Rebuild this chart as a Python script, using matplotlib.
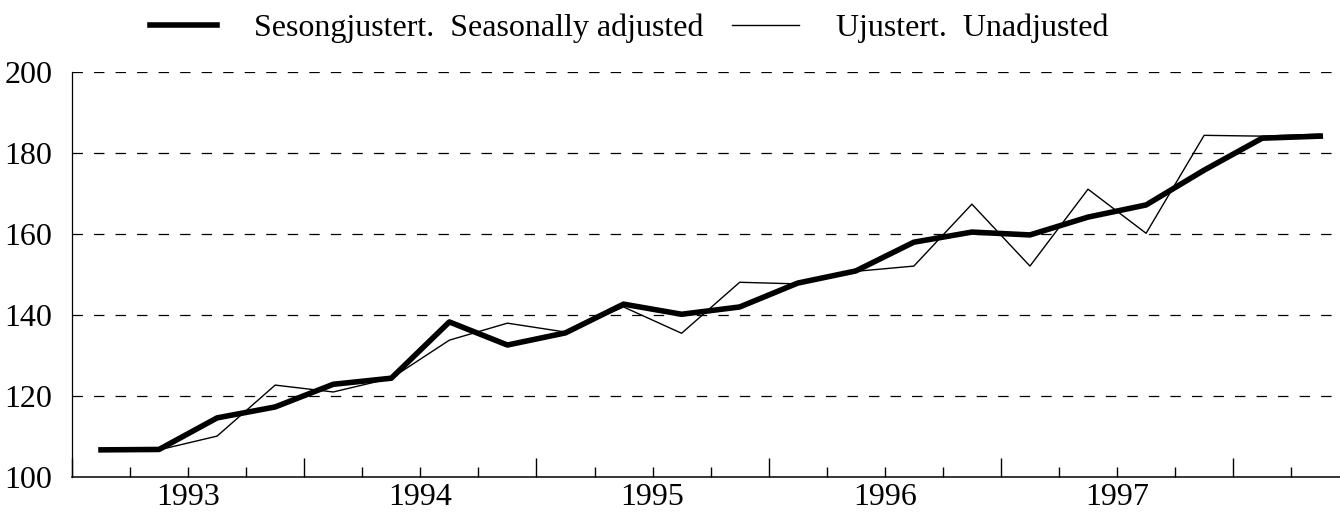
import matplotlib
matplotlib.use("Agg")
import matplotlib.pyplot as plt
from matplotlib.ticker import FixedLocator, FuncFormatter
import numpy as np

plt.rcParams['font.family'] = ['Liberation Serif', 'DejaVu Serif']
plt.rcParams['lines.scale_dashes'] = False

# quarterly index, 1993Q1 - 1998Q2 (plotted at mid-quarter)
quarters = ['1993Q1', '1993Q2', '1993Q3', '1993Q4',
            '1994Q1', '1994Q2', '1994Q3', '1994Q4',
            '1995Q1', '1995Q2', '1995Q3', '1995Q4',
            '1996Q1', '1996Q2', '1996Q3', '1996Q4',
            '1997Q1', '1997Q2', '1997Q3', '1997Q4',
            '1998Q1', '1998Q2']
seasonally_adjusted = [106.7, 106.8, 114.6, 117.3, 122.9, 124.4, 138.3, 132.6,
                       135.6, 142.7, 140.2, 142.0, 147.9, 150.9, 158.0, 160.5,
                       159.8, 164.2, 167.2, 175.8, 183.7, 184.2]
unadjusted = [106.7, 106.7, 110.1, 122.7, 121.0, 124.4, 133.8, 138.0,
              135.8, 142.0, 135.5, 148.1, 147.7, 150.8, 152.1, 167.4,
              152.1, 171.1, 160.2, 184.4, 184.2, 184.7]
years = [1993, 1994, 1995, 1996, 1997]
label_sa = 'Sesongjustert.  Seasonally adjusted'
label_un = 'Ujustert.  Unadjusted'

# x position in years
x = [int(q[:4]) + (int(q[5]) - 1) * 0.25 + 0.125 for q in quarters]

fig = plt.figure(figsize=(13.4, 5.12), dpi=100)
ax = fig.add_axes([0.0537, 0.0684, 0.9463, 0.7906])

l1, = ax.plot(x, seasonally_adjusted, color='black', lw=4.0, solid_joinstyle='round')
l2, = ax.plot(x, unadjusted, color='black', lw=1.0)

ax.set_xlim(1993, 1998.46)
ax.set_ylim(100, 200)

# dashed horizontal grid
for v in [120, 140, 160, 180, 200]:
    ax.axhline(v, color='black', lw=0.9, linestyle=(0, (7.5, 8)), zorder=0)

ax.spines['top'].set_visible(False)
ax.spines['right'].set_visible(False)
ax.spines['left'].set_linewidth(0.9)
ax.spines['bottom'].set_linewidth(1.1)

ax.set_yticks(np.arange(100, 201, 20))
ax.tick_params(axis='y', length=0, pad=14, labelsize=23)

# long ticks at year boundaries, short ticks at quarters, year label mid-year
ax.xaxis.set_major_locator(FixedLocator(years + [1998]))
ax.xaxis.set_major_formatter(FuncFormatter(lambda v, p: ''))
minor_pos = [y + q * 0.25 for y in years + [1998] for q in (1, 2, 3)]
ax.xaxis.set_minor_locator(FixedLocator(minor_pos))
ax.xaxis.set_minor_formatter(FuncFormatter(
    lambda v, p: str(int(v)) if abs(v % 1 - 0.5) < 1e-6 and int(v) in years else ''))
ax.tick_params(axis='x', which='major', direction='in', length=14, width=1.0)
ax.tick_params(axis='x', which='minor', direction='in', length=7, width=1.0,
               labelsize=23, pad=4)

fig.legend([l1, l2], [label_sa, label_un], ncol=2, frameon=False,
           loc='center left', bbox_to_anchor=(0.112, 0.945),
           fontsize=23, handlelength=2.1, handletextpad=1.15, columnspacing=0.9,
           borderaxespad=0, borderpad=0)

fig.savefig('out.png', dpi=100)
